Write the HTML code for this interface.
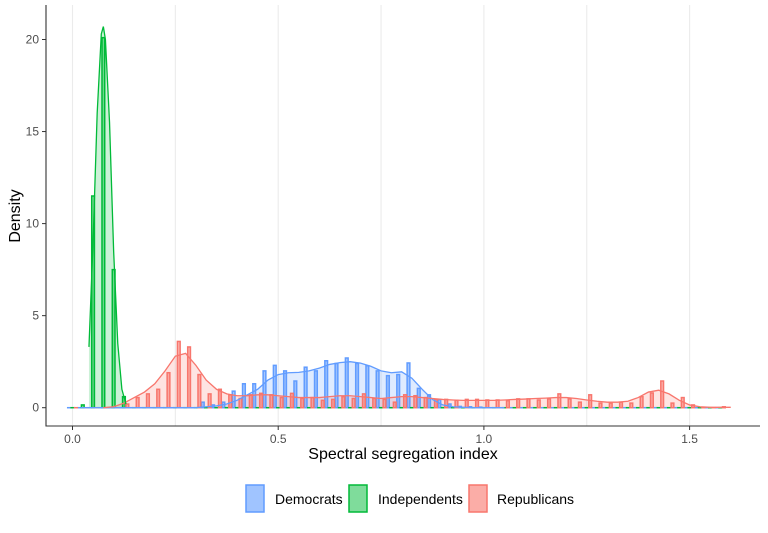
<!DOCTYPE html>
<html><head><meta charset="utf-8"><style>
body{margin:0;background:#fff;font-family:"Liberation Sans",sans-serif}
svg text{font-family:"Liberation Sans",sans-serif}
</style></head><body>
<svg id="chart" width="768" height="528" xmlns="http://www.w3.org/2000/svg">
<g id="grid"></g>
<g id="curves"></g>
<g id="bars"></g>
<g id="lines"></g>
<g id="axes"></g>
<text x="403" y="459" font-size="16" text-anchor="middle">Spectral segregation index</text>
<text x="0" y="0" font-size="16" text-anchor="middle" transform="translate(20,216) rotate(-90)">Density</text>
<g>
<rect x="246" y="485" width="18" height="27" fill="rgba(97,156,255,0.6)" stroke="#619CFF" stroke-width="1.5"/>
<text x="275" y="504" font-size="14">Democrats</text>
<rect x="349" y="485" width="18" height="27" fill="rgba(0,186,56,0.5)" stroke="#00BA38" stroke-width="1.5"/>
<text x="378" y="504" font-size="14">Independents</text>
<rect x="469" y="485" width="18" height="27" fill="rgba(248,118,109,0.6)" stroke="#F8766D" stroke-width="1.5"/>
<text x="497" y="504" font-size="14">Republicans</text>
</g>
</svg>
<script>
const binWidth = 0.025;
const binStart = 0.0;
const binCount = 64;
const demBins = {0.325:0.3,0.35:0.15,0.375:0.3,0.4:0.9,0.425:1.3,0.45:1.3,0.475:2.0,0.5:2.3,0.525:2.0,0.55:1.45,0.575:2.2,0.6:2.0,0.625:2.55,0.65:2.4,0.675:2.7,0.7:2.4,0.725:2.28,0.75:2.0,0.775:1.74,0.8:1.8,0.825:2.43,0.85:1.05,0.875:0.7,0.9:0.43,0.925:0.2,0.95:0.07,0.975:0.05,1.0:0.03};
const indBins = {0.025:0.15,0.05:11.5,0.075:20.1,0.1:7.5,0.125:0.6};
const repBins = {0.125:0.2,0.15:0.55,0.175:0.75,0.2:1.0,0.225:1.9,0.25:3.6,0.275:3.3,0.3:1.8,0.325:0.75,0.35:1.0,0.375:0.7,0.4:0.5,0.425:0.7,0.45:0.78,0.475:0.7,0.5:0.55,0.525:0.78,0.55:0.5,0.575:0.55,0.6:0.4,0.625:0.45,0.65:0.6,0.675:0.5,0.7:0.75,0.725:0.5,0.75:0.45,0.775:0.3,0.8:0.7,0.825:0.65,0.85:0.55,0.875:0.45,0.9:0.45,0.925:0.4,0.95:0.45,0.975:0.45,1.0:0.42,1.025:0.42,1.05:0.38,1.075:0.48,1.1:0.48,1.125:0.42,1.15:0.48,1.175:0.75,1.2:0.48,1.225:0.3,1.25:0.7,1.275:0.25,1.3:0.25,1.325:0.3,1.35:0.25,1.375:0.6,1.4:0.8,1.425:1.45,1.45:0.25,1.475:0.55,1.5:0.15,1.575:0.05};
const demCurveX = [0.02,0.3,0.325,0.35,0.375,0.4,0.425,0.45,0.475,0.5,0.525,0.55,0.575,0.6,0.625,0.65,0.675,0.7,0.725,0.75,0.775,0.8,0.825,0.85,0.875,0.9,0.925,0.95,0.975,1.05];
const demCurveY = [0,0,0.05,0.1,0.2,0.4,0.7,1.0,1.5,1.8,1.9,1.92,2.0,2.15,2.35,2.45,2.5,2.42,2.25,2.0,1.9,1.95,1.6,1.0,0.45,0.15,0.05,0.02,0,0];
const indCurveX = [0.04,0.05,0.06,0.07,0.075,0.08,0.09,0.1,0.11,0.12,0.13];
const indCurveY = [3.3,9,16,20.3,20.7,20,15.5,8.5,3.5,1.0,0.2];
const repCurveX = [0.075,0.1,0.125,0.15,0.175,0.2,0.225,0.25,0.275,0.3,0.325,0.35,0.375,0.4,0.425,0.45,0.475,0.5,0.525,0.55,0.575,0.6,0.625,0.65,0.675,0.7,0.725,0.75,0.775,0.8,0.825,0.85,0.875,0.9,0.925,0.95,0.975,1.0,1.025,1.05,1.075,1.1,1.125,1.15,1.175,1.2,1.225,1.25,1.275,1.3,1.325,1.35,1.375,1.4,1.425,1.45,1.475,1.5,1.525,1.55,1.575,1.6];
const repCurveY = [0,0.05,0.25,0.55,0.85,1.3,2.0,2.8,2.95,2.3,1.5,1.0,0.75,0.65,0.65,0.7,0.7,0.65,0.6,0.55,0.55,0.55,0.6,0.65,0.65,0.6,0.55,0.5,0.55,0.6,0.6,0.55,0.5,0.45,0.42,0.4,0.4,0.4,0.4,0.42,0.45,0.47,0.5,0.52,0.55,0.55,0.5,0.42,0.35,0.3,0.3,0.35,0.55,0.85,0.95,0.75,0.4,0.15,0.05,0.02,0.02,0.02];
const xTicks = [0,0.5,1.0,1.5];
const xTickLabels = ["0.0","0.5","1.0","1.5"];
const xMinor = [0.25,0.75,1.25];
const yTicks = [0,5,10,15,20];

const NS="http://www.w3.org/2000/svg";
const X0=72.5, XS=411.4, Y0=407.7, YS=18.41;
const sx=v=>X0+v*XS, sy=v=>Y0-v*YS;
function mk(tag,attrs,parent){const e=document.createElementNS(NS,tag);for(const k in attrs)e.setAttribute(k,attrs[k]);parent.appendChild(e);return e;}
const grid=document.getElementById('grid'),bars=document.getElementById('bars'),curves=document.getElementById('curves'),lines=document.getElementById('lines'),axes=document.getElementById('axes');
xTicks.concat(xMinor).forEach(v=>{
  const l=mk('line',{x1:sx(v),x2:sx(v),y1:5,y2:426,stroke:'#ebebeb','stroke-width':1.1},grid);
  
  
});
const groups=[
 {vals:demBins,off:0,fill:'rgba(97,156,255,0.55)',stroke:'#619CFF',name:'dem'},
 {vals:indBins,off:1,fill:'rgba(0,186,56,0.45)',stroke:'#00BA38',name:'ind'},
 {vals:repBins,off:2,fill:'rgba(248,118,109,0.55)',stroke:'#F8766D',name:'rep'}];
const sub=binWidth/3;
function curve(xs,ys,color,fill,name){
  let d='M'+sx(xs[0])+','+sy(0);
  xs.forEach((x,i)=>{d+=' L'+sx(x).toFixed(2)+','+sy(ys[i]).toFixed(2);});
  d+=' L'+sx(xs[xs.length-1])+','+sy(0)+' Z';
  const a=mk('path',{d:d,fill:fill,stroke:'none'},curves);
  
  
  let d2='';
  xs.forEach((x,i)=>{d2+=(i?' L':'M')+sx(x).toFixed(2)+','+sy(ys[i]).toFixed(2);});
  const p=mk('path',{d:d2,fill:'none',stroke:color,'stroke-width':1.3},lines);
  
  
}
curve(demCurveX,demCurveY,'#619CFF','rgba(97,156,255,0.2)','democrats');
curve(repCurveX,repCurveY,'#F8766D','rgba(248,118,109,0.2)','republicans');
curve(indCurveX,indCurveY,'#00BA38','rgba(0,186,56,0.2)','independents');
groups.forEach(g=>{
  for(let i=0;i<binCount;i++){
    const c=+(binStart+i*binWidth).toFixed(3);
    const v=g.vals[c]||0;
    const left=c-binWidth/2+g.off*sub;
    const r=mk('rect',{x:sx(left)+0.35,y:sy(v),width:sub*XS-0.7,height:Math.max(sy(0)-sy(v),0.01),fill:g.fill,stroke:g.stroke,'stroke-width':1.5},bars);
    
    
  }
});
const ax=mk('path',{d:'M46,5 L46,426 L760,426',fill:'none',stroke:'#333','stroke-width':1.1},axes);


xTicks.forEach((v,i)=>{
  mk('line',{x1:sx(v),x2:sx(v),y1:426,y2:430,stroke:'#333'},axes);
  const t=mk('text',{x:sx(v),y:443,'font-size':12,fill:'#4d4d4d','text-anchor':'middle'},axes);
  t.textContent=xTickLabels[i];
  
  
});
yTicks.forEach(v=>{
  mk('line',{x1:42,x2:46,y1:sy(v),y2:sy(v),stroke:'#333'},axes);
  const t=mk('text',{x:39,y:sy(v)+4,'font-size':12,fill:'#4d4d4d','text-anchor':'end'},axes);
  t.textContent=String(v);
  
  
});
</script>
</body></html>
